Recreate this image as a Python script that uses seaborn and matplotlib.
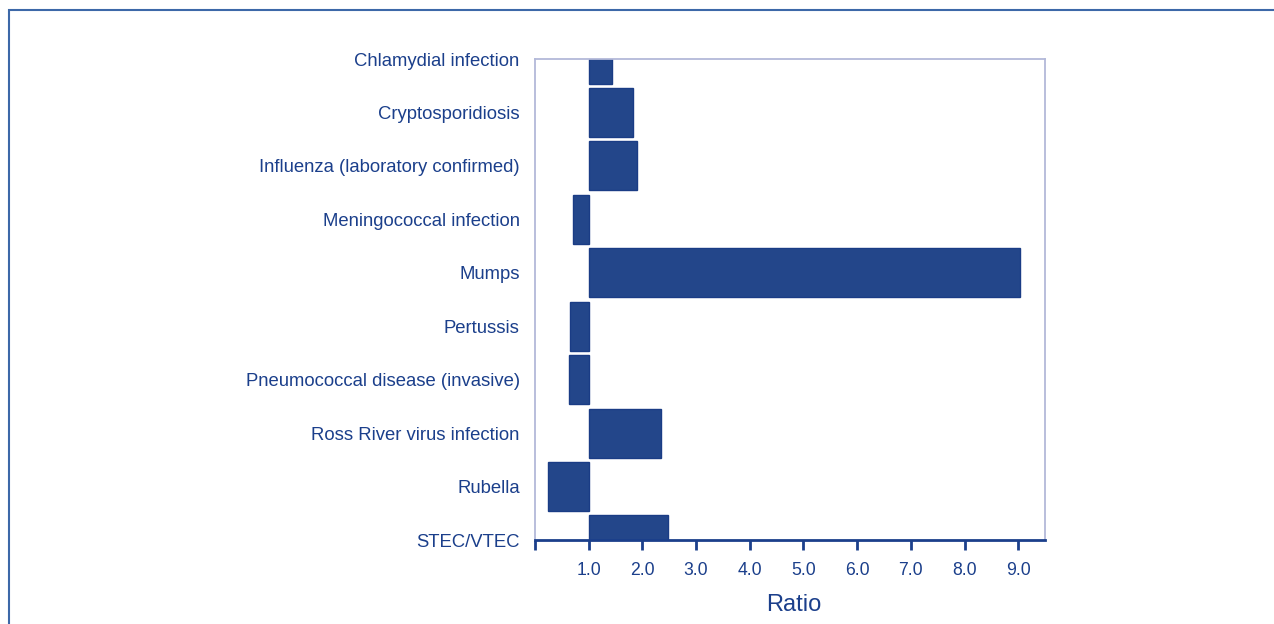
import numpy as np
import pandas as pd
import matplotlib.pyplot as plt
import seaborn as sns
from matplotlib.patches import Rectangle

# Ratio of notifications (current period vs. comparison)
diseases = [
    "Chlamydial infection",
    "Cryptosporidiosis",
    "Influenza (laboratory confirmed)",
    "Meningococcal infection",
    "Mumps",
    "Pertussis",
    "Pneumococcal disease (invasive)",
    "Ross River virus infection",
    "Rubella",
    "STEC/VTEC",
]
ratio = [1.43, 1.82, 1.90, 0.70, 9.04, 0.66, 0.64, 2.34, 0.25, 2.48]
x_ticks = [0, 1, 2, 3, 4, 5, 6, 7, 8, 9]
x_tick_labels = ["", "1.0", "2.0", "3.0", "4.0", "5.0", "6.0", "7.0", "8.0", "9.0"]

df = pd.DataFrame({"Disease": diseases, "Ratio": ratio})
# bars are drawn from the baseline ratio of 1.0
df["Change"] = df["Ratio"] - 1.0

text_col = "#1b3f8b"
bar_col = "#23468a"
light_col = "#b3b9d9"

sns.set_theme(style="white")
plt.rcParams["font.family"] = ["Liberation Sans", "DejaVu Sans"]

fig = plt.figure(figsize=(12.74, 6.24), dpi=100)
ax = fig.add_axes([0.4199, 0.1346, 0.8203 - 0.4199, 0.9054 - 0.1346])

sns.barplot(data=df, x="Change", y="Disease", order=diseases, orient="h",
            left=1.0, width=0.92, color=bar_col, saturation=1,
            edgecolor="#1a3c85", linewidth=1.0, ax=ax)

ax.set_xlim(0, 9.5)
ax.set_ylim(9, 0)
ax.set_xticks(x_ticks)
ax.set_xticklabels(x_tick_labels)
ax.set_ylabel("")
ax.set_xlabel("Ratio", fontsize=17, color=text_col)
ax.xaxis.set_label_coords(0.507, -0.113)

ax.tick_params(axis="x", direction="out", length=7, width=2, color=text_col,
               labelcolor=text_col, labelsize=12.7, pad=9, bottom=True)
ax.tick_params(axis="y", length=0, labelcolor=text_col, labelsize=13.3, pad=11)

for side in ["left", "top", "right"]:
    ax.spines[side].set_color(light_col)
    ax.spines[side].set_linewidth(1.3)
ax.spines["bottom"].set_color(text_col)
ax.spines["bottom"].set_linewidth(2)

# outer frame lines (top and left edge of the figure box)
fig.add_artist(Rectangle((9 / 1274, -0.5), 2.0, 1.5 - 10 / 624,
                         transform=fig.transFigure, fill=False,
                         edgecolor="#3d68a8", linewidth=1.5))

fig.savefig("out.png", dpi=100)
